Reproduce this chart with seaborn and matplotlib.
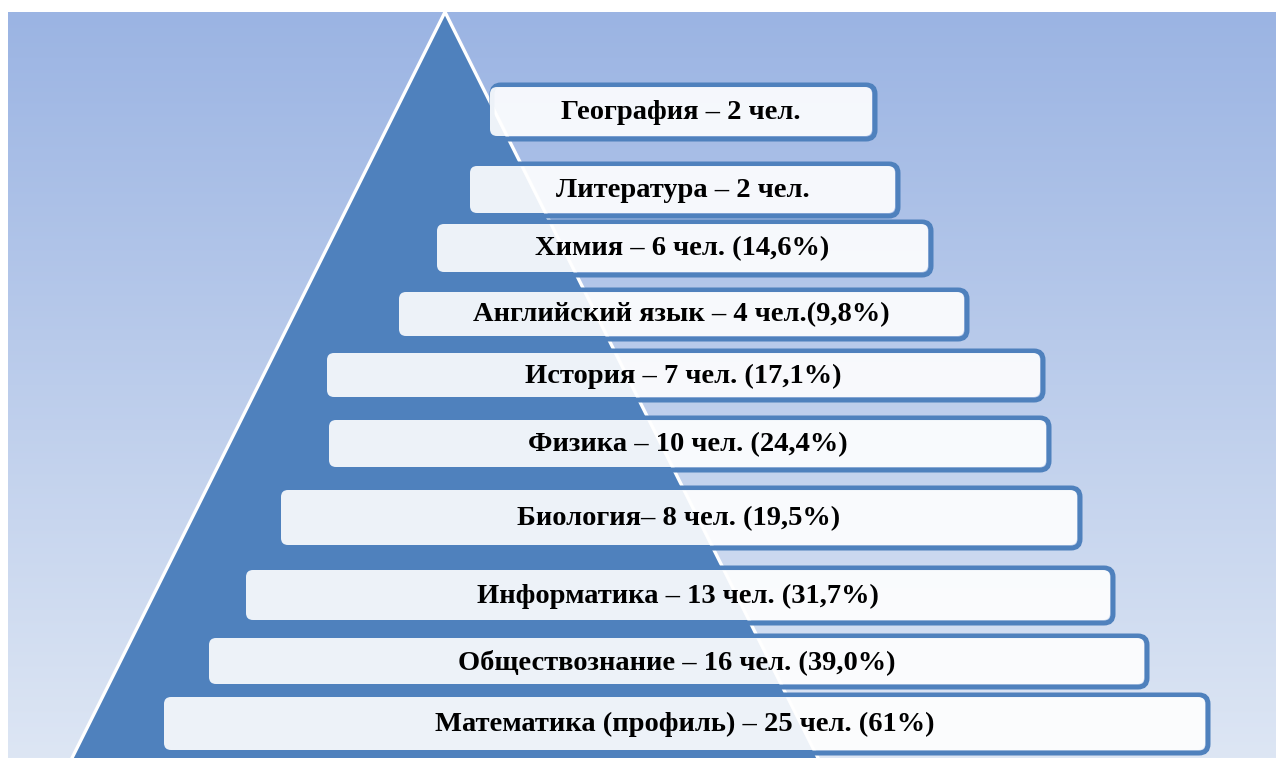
import numpy as np
import matplotlib
matplotlib.use("Agg")
import matplotlib.pyplot as plt
from matplotlib.patches import FancyBboxPatch, Polygon
from matplotlib.colors import LinearSegmentedColormap
import seaborn as sns

# ---- data (top of pyramid first) ----
subjects = ['География', 'Литература', 'Химия', 'Английский язык', 'История',
            'Физика', 'Биология', 'Информатика', 'Обществознание',
            'Математика (профиль)']
counts = [2, 2, 6, 4, 7, 10, 8, 13, 16, 25]
percents = [None, None, '14,6', '9,8', '17,1', '24,4', '19,5', '31,7', '39,0', '61']
dash_sep = [' – ', ' – ', ' – ', ' – ', ' – ', ' – ', '– ', ' – ', ' – ', ' – ']
pct_sep = [' ', ' ', ' ', '', ' ', ' ', ' ', ' ', ' ', ' ']

# ---- layout (pixel boxes) ----
box_left = [490, 470, 437, 399, 327, 329, 281, 246, 209, 164]
box_right = [872, 895, 928, 964, 1040, 1046, 1077, 1110, 1144, 1205]
box_top = [87, 166, 224, 292, 353, 420, 490, 570, 638, 697]
box_bottom = [136, 213, 272, 336, 397, 467, 545, 620, 684, 750]

labels = []
for s, c, p, d, ps in zip(subjects, counts, percents, dash_sep, pct_sep):
    t = f"{s}{d}{c} чел."
    if p is not None:
        t += f"{ps}({p}%)"
    labels.append(t)

sns.set_theme(style="white")
plt.rcParams['font.family'] = ['Liberation Serif', 'DejaVu Serif']

W, H = 1276, 758
fig = plt.figure(figsize=(W / 100, H / 100), dpi=100)
ax = fig.add_axes([0, 0, 1, 1])
ax.set_xlim(0, W)
ax.set_ylim(H, 0)
ax.axis('off')
fig.patch.set_facecolor('white')

# background gradient
bg_cmap = LinearSegmentedColormap.from_list('bg', ['#9BB4E3', '#DDE6F4'])
grad = np.linspace(0, 1, 256).reshape(-1, 1)
ax.imshow(grad, cmap=bg_cmap, extent=(8, W, H, 12), aspect='auto', zorder=0,
          interpolation='bilinear')

# triangle
apex_x, apex_y = 445, 12
tri = Polygon([(apex_x, apex_y), (apex_x - 0.5 * (H + 40 - apex_y), H + 40),
               (apex_x + 0.5 * (H + 40 - apex_y), H + 40)], closed=True,
              facecolor='#4F81BD', edgecolor='white', linewidth=2.4, zorder=1)
ax.add_patch(tri)
ax.plot([8, W], [12, 12], color='white', lw=0)

for x0, x1, y0, y1, lab in zip(box_left, box_right, box_top, box_bottom, labels):
    outline = FancyBboxPatch((x0 + 2, y0 - 2), (x1 + 3) - (x0 + 2), (y1 + 3) - (y0 - 2),
                             boxstyle="round,pad=0,rounding_size=9",
                             facecolor='none', edgecolor='#4F81BD', linewidth=3.6,
                             zorder=2)
    ax.add_patch(outline)
    box = FancyBboxPatch((x0, y0), x1 - x0, y1 - y0,
                         boxstyle="round,pad=0,rounding_size=7",
                         facecolor='white', alpha=0.9, edgecolor='none', zorder=3)
    ax.add_patch(box)
    ax.text((x0 + x1) / 2, (y0 + y1) / 2 + 1, lab, ha='center', va='center',
            fontsize=20.5, fontweight='bold', color='black', zorder=4)

fig.savefig('out.png', dpi=100, facecolor='white')
